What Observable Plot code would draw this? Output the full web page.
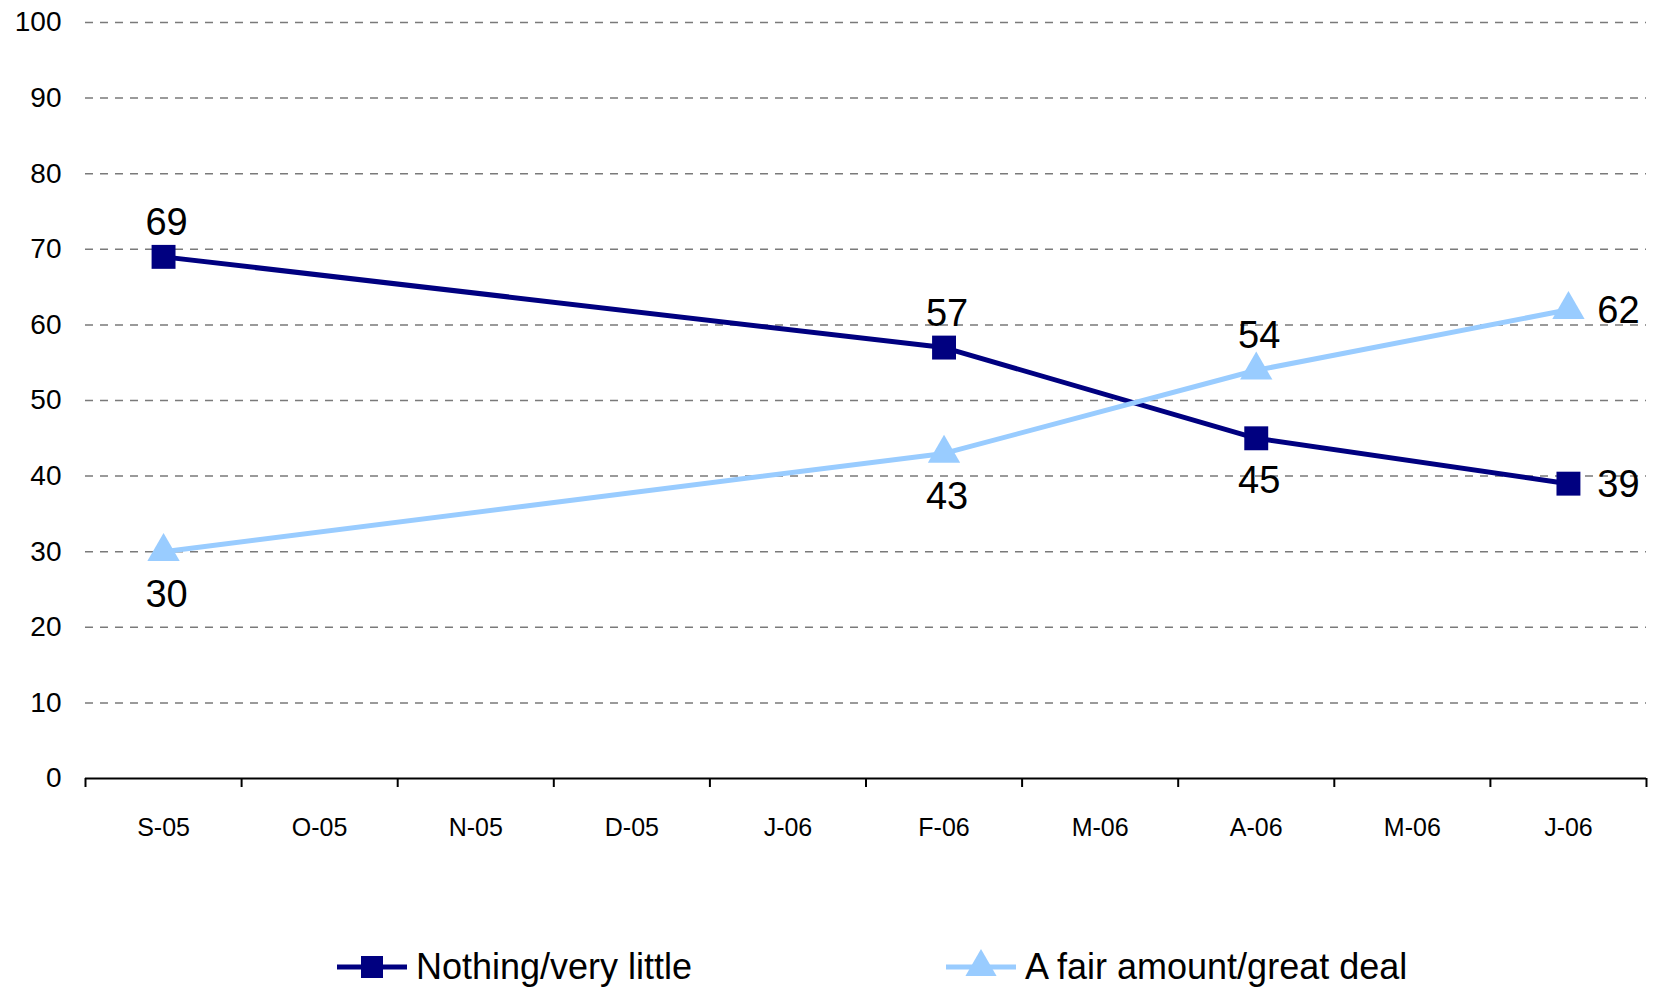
<!DOCTYPE html>
<html><head><meta charset="utf-8">
<script src="https://cdn.jsdelivr.net/npm/d3@7"></script>
<script src="https://cdn.jsdelivr.net/npm/@observablehq/plot@0.6"></script>
<style>
body{margin:0;background:#fff;font-family:"Liberation Sans",Arial,sans-serif;}
#wrap{position:relative;width:1654px;height:990px;overflow:hidden;}
.item{position:absolute;top:947px;height:40px;display:flex;align-items:center;font-size:36px;color:#000;white-space:nowrap;}
.item svg{margin-right:9px;}
</style></head><body>
<div id="wrap"><div id="chart"></div>
<div class="item" id="leg1" style="left:337px"></div>
<div class="item" id="leg2" style="left:946px"></div>
</div>
<script>
// categories on the x axis (months)
const categories = ["S-05","O-05","N-05","D-05","J-06","F-06","M-06","A-06","M-06","J-06"];
// survey points: index into categories
const surveyIndex = [0, 5, 7, 9];
const seriesNames = ["Nothing/very little", "A fair amount/great deal"];
const nothingValues = [69, 57, 45, 39];
const fairValues = [30, 43, 54, 62];
const yTicks = [0,10,20,30,40,50,60,70,80,90,100];

// label placement (style, not data)
const nothingPlace = ["above","above","below","right"];
const fairPlace = ["below","below","above","right"];
const offsets = {above:{dx:3,dy:-34}, below:{dx:3,dy:43}, right:{dx:50,dy:1}};

const navy = "#000080", light = "#99CCFF";
const mk = (vals, place) => vals.map((v,i)=>({x: surveyIndex[i] + 0.5, y: v, label: String(v), place: place[i]}));
const nothing = mk(nothingValues, nothingPlace);
const fair = mk(fairValues, fairPlace);

const labelMarks = (data) => Object.entries(offsets).map(([k,o]) =>
  Plot.text(data.filter(d => d.place === k), {x:"x", y:"y", text:"label", dx:o.dx, dy:o.dy, fontSize:38, fill:"#000"}));

const chart = Plot.plot({
  width: 1654, height: 930,
  marginLeft: 85, marginRight: 8, marginTop: 22, marginBottom: 152,
  style: {fontFamily: '"Liberation Sans", Arial, sans-serif', color: "#000", background: "#fff"},
  x: {domain: [0, categories.length], axis: null},
  y: {domain: [0, 100], axis: null},
  marks: [
    Plot.ruleY(yTicks.filter(t => t > 0), {stroke:"#7a7a7a", strokeWidth:1.5, strokeDasharray:"8,7"}),
    Plot.axisY(yTicks, {tickSize:0, tickPadding:24, fontSize:28, label:null}),
    Plot.axisX(d3.range(categories.length + 1), {tickSize:9, tickFormat:() => "", stroke:"#000", strokeWidth:2, label:null}),
    Plot.axisX(categories.map((c,i) => i + 0.5), {tickSize:0, tickPadding:40, fontSize:25, tickFormat: d => categories[Math.floor(d)], label:null}),
    Plot.ruleY([0], {stroke:"#000", strokeWidth:2}),
    Plot.line(nothing, {x:"x", y:"y", stroke:navy, strokeWidth:5}),
    Plot.dot(nothing, {x:"x", y:"y", symbol:"square", r:13.5, fill:navy, stroke:"none"}),
    Plot.line(fair, {x:"x", y:"y", stroke:light, strokeWidth:5}),
    Plot.dot(fair, {x:"x", y:"y", symbol:"triangle", r:12, fill:light, stroke:"none"}),
    ...labelMarks(nothing),
    ...labelMarks(fair)
  ]
});
document.getElementById("chart").appendChild(chart);

// legend
function icon(color, shape){
  const ns = "http://www.w3.org/2000/svg";
  const s = document.createElementNS(ns, "svg");
  s.setAttribute("width", 70); s.setAttribute("height", 40);
  const l = document.createElementNS(ns, "line");
  l.setAttribute("x1", 0); l.setAttribute("x2", 70); l.setAttribute("y1", 20); l.setAttribute("y2", 20);
  l.setAttribute("stroke", color); l.setAttribute("stroke-width", 5);
  s.appendChild(l);
  const p = document.createElementNS(ns, "path");
  const sym = d3.symbol(shape === "square" ? d3.symbolSquare : d3.symbolTriangle, shape === "square" ? 484 : 420)();
  p.setAttribute("d", sym); p.setAttribute("transform", "translate(35,20)"); p.setAttribute("fill", color);
  s.appendChild(p);
  return s;
}
const l1 = document.getElementById("leg1"), l2 = document.getElementById("leg2");
l1.appendChild(icon(navy, "square")); l1.appendChild(document.createTextNode(seriesNames[0]));
l2.appendChild(icon(light, "triangle")); l2.appendChild(document.createTextNode(seriesNames[1]));
</script>
</body></html>
